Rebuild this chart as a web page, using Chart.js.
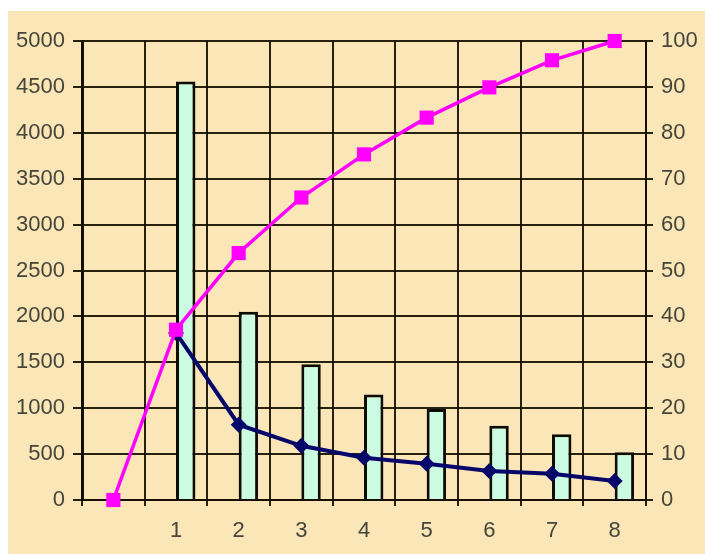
<!DOCTYPE html>
<html>
<head>
<meta charset="utf-8">
<script src="https://cdn.jsdelivr.net/npm/chart.js@4/dist/chart.umd.min.js"></script>
<style>
  html, body { margin: 0; padding: 0; background: #ffffff; }
  #wrap { width: 705px; height: 554px; }
</style>
</head>
<body>
<div id="wrap"><canvas id="c" width="705" height="554"></canvas></div>
<script>
// Categories along the bottom (first slot is the unlabeled origin)
const categories = ['', '1', '2', '3', '4', '5', '6', '7', '8'];
// Bar heights (left axis)
const barValues = [null, 4560, 2050, 1480, 1150, 990, 810, 715, 520];
// Dark line (left axis)
const lineValues = [null, 1820, 820, 590, 460, 395, 315, 287, 208];
// Cumulative percentage line (right axis)
const cumulativePct = [0, 37.1, 53.8, 65.9, 75.3, 83.3, 89.9, 95.8, 100];
// Empty companion series: keeps each bar in the right half of its slot
const emptySlot = [null, null, null, null, null, null, null, null, null];

const gridColor = 'rgba(20, 15, 0, 0.92)';
const textColor = '#45453a';
const tickFont = { family: '"Liberation Sans", Arial, sans-serif', size: 22 };

const paperBackground = {
  id: 'paperBackground',
  beforeDraw(chart) {
    const ctx = chart.ctx;
    ctx.save();
    ctx.fillStyle = '#ffffff';
    ctx.fillRect(0, 0, chart.width, chart.height);
    ctx.fillStyle = '#fbe6b8';
    ctx.fillRect(8, 11, chart.width - 8, chart.height - 11);
    ctx.restore();
  }
};

new Chart(document.getElementById('c'), {
  type: 'bar',
  data: {
    labels: categories,
    datasets: [
      {
        type: 'line',
        label: 'cumulative',
        data: cumulativePct,
        yAxisID: 'y1',
        borderColor: '#ff00ff',
        backgroundColor: '#ff00ff',
        borderWidth: 3.5,
        pointStyle: 'rect',
        pointRadius: 10,
        pointBorderWidth: 0,
        tension: 0,
        clip: false,
        order: 0
      },
      {
        type: 'line',
        label: 'line',
        data: lineValues,
        yAxisID: 'y',
        borderColor: '#07076a',
        backgroundColor: '#07076a',
        borderWidth: 4,
        pointStyle: 'rectRot',
        pointRadius: 8,
        pointBorderWidth: 0,
        tension: 0,
        clip: false,
        order: 1
      },
      {
        label: 'slot',
        data: emptySlot,
        yAxisID: 'y',
        backgroundColor: 'rgba(0,0,0,0)',
        borderWidth: 0,
        categoryPercentage: 0.62,
        barPercentage: 1.0,
        order: 2
      },
      {
        label: 'bars',
        data: barValues,
        yAxisID: 'y',
        backgroundColor: '#cbfbe0',
        borderColor: '#0d0d05',
        borderWidth: 3,
        categoryPercentage: 0.62,
        barPercentage: 1.0,
        order: 2
      }
    ]
  },
  options: {
    responsive: false,
    animation: false,
    layout: { padding: { top: 41, left: 0, right: 0, bottom: 0 } },
    plugins: {
      legend: { display: false },
      tooltip: { enabled: false }
    },
    scales: {
      x: {
        type: 'category',
        offset: true,
        grid: {
          offset: true,
          color: gridColor,
          lineWidth: 2,
          tickLength: 6,
          tickColor: gridColor
        },
        border: { color: gridColor, width: 2 },
        ticks: { color: textColor, font: tickFont, padding: 12, maxRotation: 0 },
        afterFit(scale) { scale.height = 54; }
      },
      y: {
        position: 'left',
        min: 0,
        max: 5000,
        ticks: {
          stepSize: 500,
          color: textColor,
          font: tickFont,
          padding: 8,
          callback: (v) => String(v)
        },
        grid: {
          color: gridColor,
          lineWidth: 2,
          tickLength: 9,
          tickColor: gridColor
        },
        border: { color: 'rgba(15,10,0,0.97)', width: 3 },
        afterFit(scale) { scale.width = 82; }
      },
      y1: {
        position: 'right',
        min: 0,
        max: 100,
        ticks: {
          stepSize: 10,
          color: textColor,
          font: tickFont,
          padding: 8,
          callback: (v) => String(v)
        },
        grid: {
          drawOnChartArea: false,
          lineWidth: 2,
          tickLength: 7,
          tickColor: gridColor
        },
        border: { color: gridColor, width: 2 },
        afterFit(scale) { scale.width = 59; }
      }
    }
  },
  plugins: [paperBackground]
});
</script>
</body>
</html>
